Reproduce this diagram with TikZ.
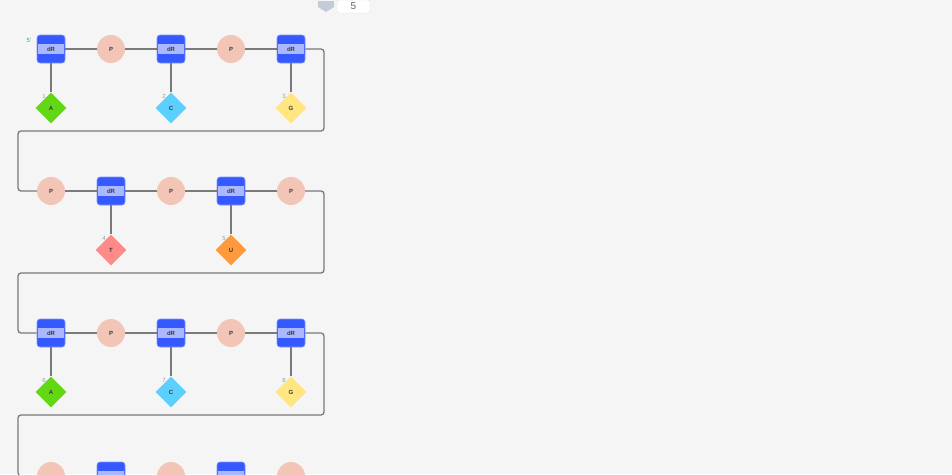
\documentclass[tikz,border=0pt]{standalone}
\usepackage{fontspec}
\setmainfont{Liberation Sans}
\usetikzlibrary{shapes.geometric}
\definecolor{bg}{HTML}{F5F5F5}
\definecolor{drblue}{HTML}{3558FF}
\definecolor{drband}{HTML}{AAB8FF}
\definecolor{drborder}{HTML}{7F96FF}
\definecolor{pcol}{HTML}{F2C5B6}
\definecolor{linec}{HTML}{7A7A7A}
\definecolor{cA}{HTML}{62D814}
\definecolor{cC}{HTML}{5BD0FF}
\definecolor{cG}{HTML}{FFE680}
\definecolor{cT}{HTML}{FF8A8A}
\definecolor{cU}{HTML}{FF9A3C}
\definecolor{numc}{HTML}{999999}
\definecolor{tealc}{HTML}{3A9BB0}
\definecolor{txt}{HTML}{3A3A3A}
\tikzset{
  drbox/.style={draw=drborder, line width=0.6pt, fill=drblue, rounded corners=3pt, minimum width=28pt, minimum height=28pt, inner sep=0pt},
  drbandn/.style={fill=drband, minimum width=26pt, minimum height=10pt, inner sep=0pt, text=txt, font=\fontsize{6}{7}\selectfont\bfseries},
  pnode/.style={circle, fill=pcol, minimum size=28pt, inner sep=0pt, text=txt, font=\fontsize{6}{7}\selectfont\bfseries},
  base/.style={diamond, fill=#1, minimum width=31pt, minimum height=31pt, inner sep=0pt, text=txt, font=\fontsize{6}{7}\selectfont\bfseries},
  numl/.style={text=numc, font=\fontsize{6}{7}\selectfont, inner sep=0pt},
  bb/.style={draw=linec, line width=1.3pt, rounded corners=3pt},
  stub/.style={draw=linec, line width=1.3pt}
}
\newcommand{\drnode}[3]{%
  \node[drbox] (#1) at #2 {};
  \node[drbandn] (#1b) at #2 {#3};}
\begin{document}
\begin{tikzpicture}[x=1pt,y=-1pt]
\fill[bg] (0,0) rectangle (952,474);
\useasboundingbox (0,0) rectangle (952,474);
\clip (0,0) rectangle (952,474);
% top spinner
\fill[fill={rgb,255:red,197;green,202;blue,216}] (318,1) -- (334,1) -- (334,7) -- (326,12) -- (318,7) -- cycle;
\node[draw={rgb,255:red,222;green,222;blue,222}, fill=white, rounded corners=2pt, minimum width=33pt, minimum height=13pt, inner sep=0pt, text={rgb,255:red,100;green,100;blue,100}, font=\fontsize{10}{11}\selectfont] (spin) at (353.5,6.5) {5};
% row 1
\drnode{a1}{(51,49)}{dR}
\node[pnode] (a2) at (111,49) {P};
\drnode{a3}{(171,49)}{dR}
\node[pnode] (a4) at (231,49) {P};
\drnode{a5}{(291,49)}{dR}
% row 2
\node[pnode] (b1) at (51,191) {P};
\drnode{b2}{(111,191)}{dR}
\node[pnode] (b3) at (171,191) {P};
\drnode{b4}{(231,191)}{dR}
\node[pnode] (b5) at (291,191) {P};
% row 3
\drnode{c1}{(51,333)}{dR}
\node[pnode] (c2) at (111,333) {P};
\drnode{c3}{(171,333)}{dR}
\node[pnode] (c4) at (231,333) {P};
\drnode{c5}{(291,333)}{dR}
% row 4 (cut off by the lower edge; its texts are not visible)
\node[pnode] (e1) at (51,476) {};
\drnode{e2}{(111,476)}{}
\node[pnode] (e3) at (171,476) {};
\drnode{e4}{(231,476)}{}
\node[pnode] (e5) at (291,476) {};
% bases
\node[base=cA] (n1) at (51,108) {A};
\node[base=cC] (n2) at (171,108) {C};
\node[base=cG] (n3) at (291,108) {G};
\node[base=cT] (n4) at (111,250) {T};
\node[base=cU] (n5) at (231,250) {U};
\node[base=cA] (n6) at (51,392) {A};
\node[base=cC] (n7) at (171,392) {C};
\node[base=cG] (n8) at (291,392) {G};
% labels
\node[text=tealc, font=\fontsize{6}{7}\selectfont, inner sep=0pt] (l5p) at (29,40) {5'};
\node[numl] (l1) at (44,96) {1};
\node[numl] (l2) at (164,96) {2};
\node[numl] (l3) at (284,96) {3};
\node[numl] (l4) at (104,238) {4};
\node[numl] (l5) at (224,238) {5};
\node[numl] (l6) at (44,380) {6};
\node[numl] (l7) at (164,380) {7};
\node[numl] (l8) at (284,380) {8};
% turn coordinates
\coordinate (t1a) at (324,49);
\coordinate (t1b) at (324,131);
\coordinate (t1c) at (18,131);
\coordinate (t1d) at (18,191);
\coordinate (t2a) at (324,191);
\coordinate (t2b) at (324,273);
\coordinate (t2c) at (18,273);
\coordinate (t2d) at (18,333);
\coordinate (t3a) at (324,333);
\coordinate (t3b) at (324,415);
\coordinate (t3c) at (18,415);
\coordinate (t3d) at (18,476);
% backbone
\draw[stub] (a1.east) -- (a2.west);
\draw[stub] (a2.east) -- (a3.west);
\draw[stub] (a3.east) -- (a4.west);
\draw[stub] (a4.east) -- (a5.west);
\draw[bb] (a5.east) -- (t1a) -- (t1b) -- (t1c) -- (t1d) -- (b1.west);
\draw[stub] (b1.east) -- (b2.west);
\draw[stub] (b2.east) -- (b3.west);
\draw[stub] (b3.east) -- (b4.west);
\draw[stub] (b4.east) -- (b5.west);
\draw[bb] (b5.east) -- (t2a) -- (t2b) -- (t2c) -- (t2d) -- (c1.west);
\draw[stub] (c1.east) -- (c2.west);
\draw[stub] (c2.east) -- (c3.west);
\draw[stub] (c3.east) -- (c4.west);
\draw[stub] (c4.east) -- (c5.west);
\draw[bb] (c5.east) -- (t3a) -- (t3b) -- (t3c) -- (t3d) -- (e1.west);
\draw[stub] (e1.east) -- (e2.west);
\draw[stub] (e2.east) -- (e3.west);
\draw[stub] (e3.east) -- (e4.west);
\draw[stub] (e4.east) -- (e5.west);
% stubs to bases
\draw[stub] (a1.south) -- (n1.north);
\draw[stub] (a3.south) -- (n2.north);
\draw[stub] (a5.south) -- (n3.north);
\draw[stub] (b2.south) -- (n4.north);
\draw[stub] (b4.south) -- (n5.north);
\draw[stub] (c1.south) -- (n6.north);
\draw[stub] (c3.south) -- (n7.north);
\draw[stub] (c5.south) -- (n8.north);
\end{tikzpicture}
\end{document}
